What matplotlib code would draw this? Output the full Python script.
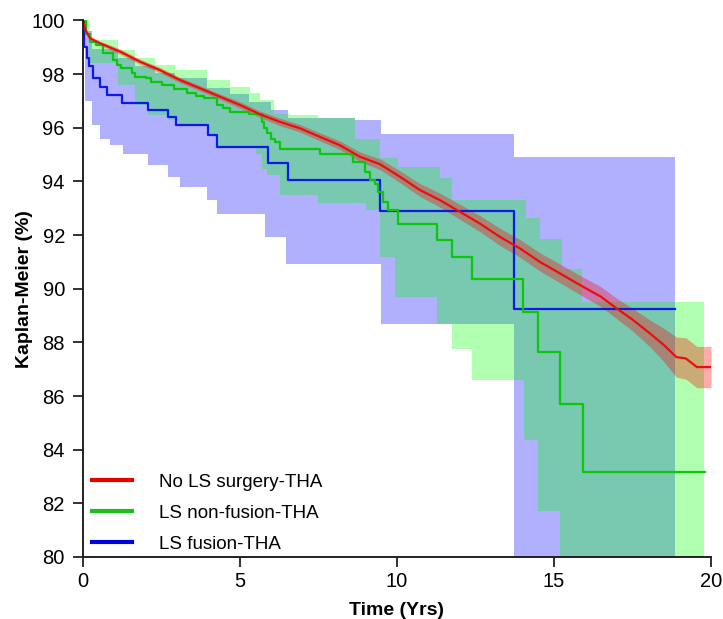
import numpy as np
import matplotlib.pyplot as plt

plt.rcParams['font.family'] = ['Liberation Sans', 'DejaVu Sans']

# No LS surgery-THA (red) – KM estimate and half-width of the CI band
red_t = [0, 0.1, 0.22, 0.54, 1.18, 1.82, 2.45, 3.09, 3.73, 4.36, 5.0, 5.64, 6.27, 6.91,
         7.55, 8.18, 8.82, 9.46, 10.1, 10.73, 11.37, 12.0, 12.64, 13.28, 13.92, 14.55,
         15.19, 15.93, 16.5, 17.0, 17.5, 18.06, 18.5, 18.9, 19.2, 19.55, 20.0]
red_s = [100, 99.6, 99.34, 99.15, 98.84, 98.46, 98.15, 97.78, 97.47, 97.16, 96.85, 96.5,
         96.22, 95.98, 95.66, 95.35, 94.92, 94.64, 94.17, 93.68, 93.3, 92.87, 92.43, 91.93,
         91.5, 91.0, 90.57, 90.07, 89.7, 89.26, 88.85, 88.33, 87.9, 87.45, 87.4, 87.08, 87.08]
red_half = [0, 0.08, 0.08, 0.08, 0.1, 0.1, 0.1, 0.1, 0.1, 0.1, 0.12, 0.12, 0.14, 0.14,
            0.15, 0.16, 0.18, 0.2, 0.22, 0.24, 0.26, 0.28, 0.3, 0.32, 0.33, 0.34,
            0.35, 0.36, 0.37, 0.38, 0.42, 0.5, 0.62, 0.75, 0.77, 0.77, 0.77]

# LS non-fusion-THA (green)
grn_t = [0, 0.08, 0.22, 0.4, 0.65, 0.96, 1.07, 1.2, 1.55, 1.66, 2.0, 2.15, 2.5, 2.9, 3.3,
         3.6, 3.85, 4.26, 4.45, 4.68, 5.3, 5.7, 5.78, 5.86, 6.0, 6.1, 6.27, 7.55, 8.61,
         8.98, 9.14, 9.3, 9.4, 9.56, 9.72, 10.04, 11.26, 11.74, 12.38, 14.02, 14.5,
         15.19, 15.93, 19.8]
grn_s = [100, 99.5, 99.2, 99.1, 98.8, 98.53, 98.34, 98.22, 98.03, 97.9, 97.84, 97.72,
         97.59, 97.45, 97.28, 97.2, 97.1, 96.85, 96.75, 96.6, 96.5, 96.2, 95.98, 95.8,
         95.6, 95.46, 95.22, 95.04, 94.72, 94.35, 94.04, 93.92, 93.6, 93.23, 92.92, 92.43,
         91.81, 91.18, 90.38, 89.14, 87.65, 85.72, 83.18, 83.18]
grn_ci_t = [0, 0.2, 1.1, 1.13, 1.66, 2.07, 2.29, 2.7, 2.93, 3.05, 3.94, 4.27, 4.68, 5.32,
            5.5, 5.64, 5.7, 5.85, 6.08, 6.27, 6.6, 7.49, 7.5, 8.66, 9.0, 9.46, 9.94, 10.04,
            11.26, 11.37, 11.74, 12.38, 14.03, 14.1, 14.5, 14.55, 15.19, 15.25, 15.88, 19.78]
grn_lo = [99.6, 98.4, 97.6, 97.6, 96.85, 96.47, 96.47, 96.3, 96.3, 96.1, 95.73, 95.3,
          95.3, 95.3, 95.04, 95.04, 94.48, 94.24, 94.24, 93.5, 93.5, 93.5, 93.2, 93.2,
          92.93, 91.2, 89.7, 89.7, 88.7, 88.7, 87.77, 86.59, 84.35, 84.35, 81.73, 81.73,
          79, 79, 79, 79]
grn_hi = [100, 99.27, 99.27, 98.9, 98.59, 98.59, 98.34, 98.34, 98.15, 98.15, 97.78, 97.78,
          97.53, 97.28, 97.28, 97.03, 97.03, 97.03, 96.5, 96.5, 96.47, 96.35, 96.35, 95.6,
          95.6, 94.86, 94.86, 94.55, 94.55, 94.11, 93.3, 93.3, 93.3, 92.62, 92.62, 91.87,
          91.87, 90.75, 89.51, 89.51]

# LS fusion-THA (blue)
blu_t = [0, 0.04, 0.12, 0.2, 0.33, 0.54, 0.75, 1.23, 2.08, 2.72, 2.95, 3.99, 4.26, 5.9,
         6.54, 9.46, 13.73, 18.85]
blu_s = [100, 99.0, 98.6, 98.3, 97.84, 97.53, 97.22, 96.91, 96.66, 96.41, 96.1, 95.73,
         95.29, 94.7, 94.07, 92.9, 89.26, 89.26]
blu_ci_t = [0, 0.05, 0.28, 0.54, 0.86, 1.13, 1.28, 1.66, 2.08, 2.29, 2.72, 2.93, 3.09,
            3.94, 4.26, 4.68, 5.3, 5.8, 6.0, 6.48, 6.54, 8.66, 9.5, 13.72, 18.85]
blu_lo = [99.5, 97.0, 96.1, 95.6, 95.35, 95.35, 95.04, 95.04, 94.6, 94.6, 94.17, 94.17,
          93.78, 93.3, 92.78, 92.78, 92.78, 91.93, 91.93, 90.94, 90.94, 90.94, 88.7, 79, 79]
blu_hi = [100, 99.6, 98.95, 98.95, 98.95, 98.6, 98.6, 98.3, 98.3, 98.05, 98.05, 97.85,
          97.85, 97.5, 97.5, 97.25, 96.95, 96.95, 96.66, 96.66, 96.35, 96.29, 95.75, 94.92,
          94.92]

fig = plt.figure(figsize=(7.23, 6.19), dpi=100)
ax = fig.add_axes([0.1148, 0.1002, 0.8686, 0.8667])

# draw order: blue, green, red (fills tint lines below them)
ax.fill_between(blu_ci_t, blu_lo, blu_hi, step='post', color=(0, 0, 1), alpha=0.31, lw=0)
ax.step(blu_t, blu_s, where='post', color=(0.05, 0.1, 0.9), lw=1.6)
ax.fill_between(grn_ci_t, grn_lo, grn_hi, step='post', color=(0, 1, 0), alpha=0.31, lw=0)
ax.step(grn_t, grn_s, where='post', color=(0.05, 0.78, 0.05), lw=1.6)
red_lo = np.array(red_s) - np.array(red_half)
red_hi = np.array(red_s) + np.array(red_half)
ax.fill_between(red_t, red_lo, red_hi, color=(1, 0, 0), alpha=0.33, lw=0)
ax.plot(red_t, red_s, color=(0.93, 0.05, 0.05), lw=1.6)

# legend with plain coloured lines
h1, = ax.plot([], [], color=(0.9, 0.0, 0.0), lw=3)
h2, = ax.plot([], [], color=(0.1, 0.75, 0.1), lw=3)
h3, = ax.plot([], [], color=(0.0, 0.0, 0.85), lw=3)
ax.legend([h1, h2, h3], ['No LS surgery-THA', 'LS non-fusion-THA', 'LS fusion-THA'],
          loc='lower left', bbox_to_anchor=(-0.012, -0.024), frameon=False, fontsize=13.5,
          handlelength=2.1, handletextpad=1.45, labelspacing=0.74)

ax.set_xlim(0, 20)
ax.set_ylim(80, 100)
ax.set_xticks([0, 5, 10, 15, 20])
ax.set_yticks(np.arange(80, 101, 2))
for s in ['top', 'right']:
    ax.spines[s].set_visible(False)
for s in ['left', 'bottom']:
    ax.spines[s].set_linewidth(1.4)
    ax.spines[s].set_color('#222222')
ax.tick_params(direction='out', length=7, width=1.3, labelsize=14.5, colors='#222222',
               labelcolor='black')
ax.tick_params(axis='y', pad=6)
ax.set_xlabel('Time (Yrs)', fontsize=14, fontweight='bold', labelpad=8)
ax.set_ylabel('Kaplan-Meier (%)', fontsize=14, fontweight='bold', labelpad=-1)

fig.savefig('out.png', dpi=100)
